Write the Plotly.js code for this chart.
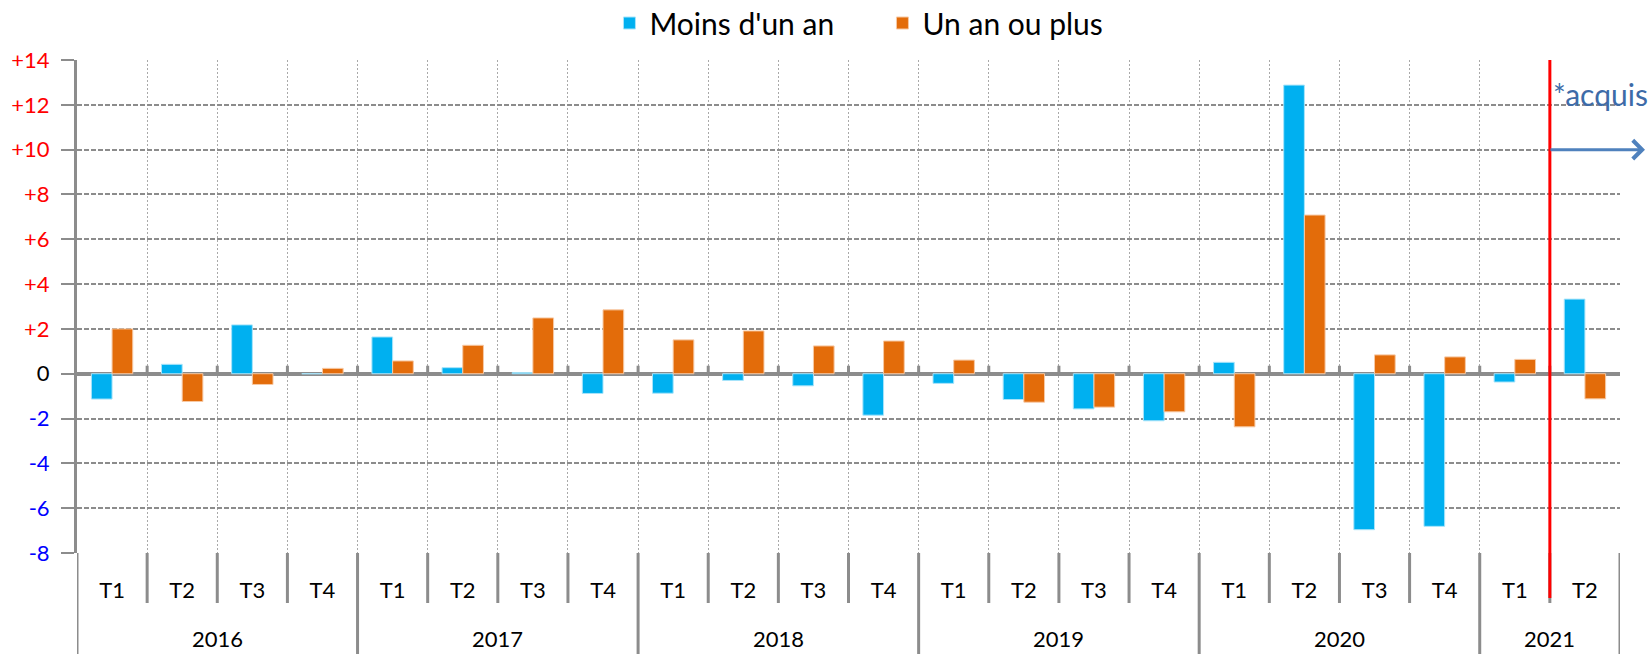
<!DOCTYPE html>
<html>
<head>
<meta charset="utf-8">
<script src="https://cdn.plot.ly/plotly-3.0.1.min.js"></script>
<style>html,body{margin:0;padding:0;background:#fff;}#chart{width:1650px;height:654px;}</style>
</head>
<body>
<div id="chart"></div>
<script>
// ---- data ----
const years = ["2016","2016","2016","2016","2017","2017","2017","2017","2018","2018","2018","2018",
               "2019","2019","2019","2019","2020","2020","2020","2020","2021","2021"];
const quarters = ["T1","T2","T3","T4","T1","T2","T3","T4","T1","T2","T3","T4",
                  "T1","T2","T3","T4","T1","T2","T3","T4","T1","T2"];
const moinsUnAn = [-1.13, 0.42, 2.18, 0.0, 1.64, 0.27, 0.05, -0.88, -0.87, -0.30, -0.54, -1.85,
                   -0.43, -1.15, -1.57, -2.10, 0.51, 12.88, -6.96, -6.81, -0.37, 3.33];
const unAnOuPlus = [2.00, -1.24, -0.48, 0.24, 0.57, 1.27, 2.49, 2.85, 1.51, 1.91, 1.24, 1.46,
                    0.61, -1.27, -1.49, -1.70, -2.37, 7.08, 0.84, 0.75, 0.64, -1.12];
const seriesNames = ["Moins d'un an", "Un an ou plus"];
const yTickVals = [14, 12, 10, 8, 6, 4, 2, 0, -2, -4, -6, -8];
const yTickText = ["+14","+12","+10","+8","+6","+4","+2","0","-2","-4","-6","-8"];
const noteText = "*acquis";
const splitIndex = 20.5;   // between 2021 T1 and T2
const arrowLevel = 10;

// ---- geometry / styling ----
const W = 1650, H = 654;
const M = { l: 77, r: 30, t: 60, b: 101 };
const plotH = H - M.t - M.b;
const px = p => p / plotH;            // pixels -> paper fraction (vertical)
const FONT = "Lato, 'Open Sans', sans-serif";
const GRAY = "#8c8c8c";

const xIdx = quarters.map((_, i) => i);
const n = quarters.length;

const tickText = yTickText.map((t, i) => {
  const v = yTickVals[i];
  const c = v > 0 ? "#ff0000" : (v < 0 ? "#0000ff" : "#000000");
  return '<span style="color:' + c + '">' + t + '</span>';
});

const traces = [
  { type: "bar", name: seriesNames[0], x: xIdx, y: moinsUnAn,
    marker: { color: "#00b0f0", line: { color: "#a8e4fa", width: 1 } }, hoverinfo: "y" },
  { type: "bar", name: seriesNames[1], x: xIdx, y: unAnOuPlus,
    marker: { color: "#e36c0a", line: { color: "#f7c9a4", width: 1 } }, hoverinfo: "y" }
];

const shapes = [];
const annotations = [];
for (let i = 0; i <= n; i++) {
  const b = i - 0.5;
  const yearBoundary = (i === 0 || i === n || years[i] !== years[i - 1]);
  // vertical separators in label band (longer at year boundaries)
  shapes.push({ type: "line", xref: "x", yref: "paper", x0: b, x1: b,
    y0: 0, y1: yearBoundary ? -px(M.b) - 0.01 : -px(50),
    line: { color: GRAY, width: 3 }, layer: "above" });
  // little ticks above zero line
  if (i > 0 && i < n)
    shapes.push({ type: "line", xref: "x", yref: "y", ysizemode: "pixel", yanchor: 0,
      x0: b, x1: b, y0: 0, y1: 8, line: { color: GRAY, width: 3 }, layer: "above" });
}
// year labels centred on their quarters
const uniqYears = [...new Set(years)];
uniqYears.forEach(yr => {
  const idx = xIdx.filter(i => years[i] === yr);
  const c = (idx[0] + idx[idx.length - 1]) / 2;
  annotations.push({ xref: "x", yref: "paper", x: c, y: -px(638 - (H - M.b)), yanchor: "middle",
    text: yr, showarrow: false, font: { family: FONT, size: 22, color: "#000" } });
});
// red split line
shapes.push({ type: "line", xref: "x", yref: "paper", x0: splitIndex, x1: splitIndex,
  y0: 1, y1: -px(45), line: { color: "#ff0000", width: 3 }, layer: "above" });

annotations.push({ xref: "x", yref: "y", x: splitIndex, y: 12.5, xanchor: "left", yanchor: "middle",
  xshift: 1, text: noteText, showarrow: false, font: { family: FONT, size: 30, color: "#3d6ba8" } });
annotations.push({ xref: "paper", yref: "y", x: (1645 - M.l) / (W - M.l - M.r), y: arrowLevel,
  axref: "pixel", ayref: "pixel", ax: -96, ay: 0, text: "", showarrow: true,
  arrowhead: 4, arrowsize: 1.2, arrowwidth: 3, arrowcolor: "#4f81bd" });

const layout = {
  width: W, height: H,
  margin: { l: M.l, r: M.r, t: M.t, b: M.b, autoexpand: false },
  paper_bgcolor: "#ffffff", plot_bgcolor: "#ffffff",
  font: { family: FONT, size: 22, color: "#000" },
  barmode: "group", bargap: 0.41, bargroupgap: 0,
  showlegend: true,
  legend: { orientation: "h", x: 0.522, xanchor: "center", y: 1 + px(37), yanchor: "middle",
    font: { family: FONT, size: 30, color: "#000" }, itemwidth: 30,
    entrywidth: 228, entrywidthmode: "pixels", traceorder: "normal" },
  xaxis: {
    type: "linear", range: [-0.5, n - 0.5],
    tickmode: "array", tickvals: xIdx, ticktext: quarters,
    showgrid: false, ticks: "", ticklabelstandoff: 22,
    minor: { tickmode: "linear", tick0: -0.5, dtick: 1, showgrid: true,
             gridcolor: "#a9a9a9", gridwidth: 1, griddash: "2px,2px", ticks: "" },
    showline: false, zeroline: false,
    tickfont: { family: FONT, size: 22, color: "#000" },
    fixedrange: true
  },
  yaxis: {
    range: [-8, 14], tickmode: "array", tickvals: yTickVals, ticktext: tickText,
    showgrid: true, gridcolor: GRAY, gridwidth: 2, griddash: "5px,2px",
    zeroline: true, zerolinecolor: GRAY, zerolinewidth: 4,
    showline: true, linecolor: GRAY, linewidth: 3,
    ticks: "outside", ticklen: 13, tickcolor: GRAY, tickwidth: 2, ticklabelstandoff: 7,
    tickfont: { family: FONT, size: 22 },
    fixedrange: true
  },
  shapes: shapes,
  annotations: annotations
};

Plotly.newPlot("chart", traces, layout, { displayModeBar: false, staticPlot: true });
</script>
</body>
</html>
